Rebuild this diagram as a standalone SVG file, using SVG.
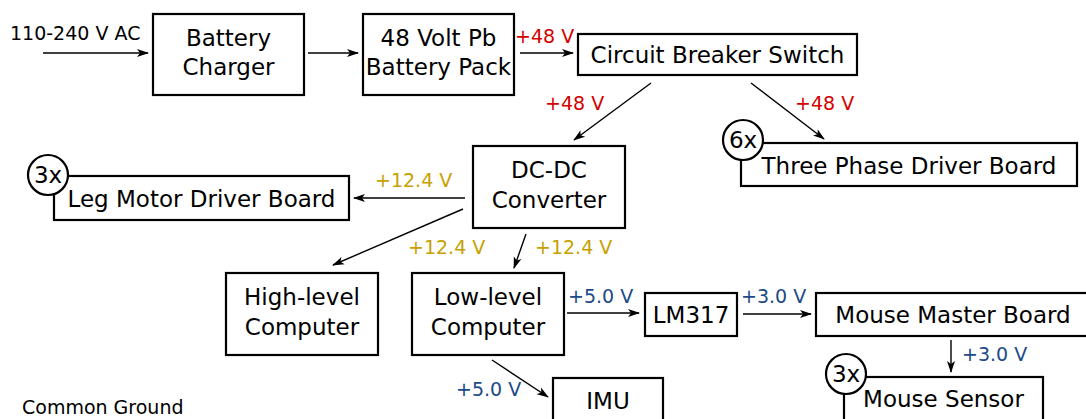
<svg xmlns="http://www.w3.org/2000/svg" width="1086" height="419" viewBox="0 0 1086 419">
<defs>
<style>
.box{fill:#fff;stroke:#000;stroke-width:2.2}
.t{font-family:"DejaVu Sans",sans-serif;font-size:23px;fill:#000;text-anchor:middle}
.l{font-family:"DejaVu Sans",sans-serif;font-size:19px}
.red{fill:#d40000}.gold{fill:#c8a000}.blue{fill:#204a87}
.e{stroke:#000;stroke-width:1.4;fill:none;marker-end:url(#a)}
</style>
<marker id="a" viewBox="0 0 12 10" refX="11" refY="5" markerWidth="12" markerHeight="10" markerUnits="userSpaceOnUse" orient="auto">
<path d="M0,1 L12,5 L0,9 L3,5 Z" fill="#000"/>
</marker>
</defs>
<g id="connectors">
<line class="e" x1="43" y1="53" x2="148" y2="53"/>
<line class="e" x1="308" y1="53" x2="358" y2="53"/>
<line class="e" x1="520" y1="53" x2="573" y2="53"/>
<line class="e" x1="651" y1="83" x2="574" y2="140"/>
<line class="e" x1="751" y1="83" x2="824" y2="139"/>
<line class="e" x1="465" y1="198" x2="354" y2="198"/>
<line class="e" x1="463" y1="209" x2="333" y2="265"/>
<line class="e" x1="526" y1="234" x2="514" y2="268"/>
<line class="e" x1="567" y1="313" x2="639" y2="313"/>
<line class="e" x1="743" y1="314" x2="811" y2="314"/>
<line class="e" x1="951" y1="340" x2="951" y2="372"/>
<line class="e" x1="492" y1="360" x2="548" y2="397"/>
</g>
<g id="labels">
<text class="l" x="10" y="40">110-240 V AC</text>
<text class="l red" x="515" y="43">+48 V</text>
<text class="l red" x="545" y="110">+48 V</text>
<text class="l red" x="795" y="110">+48 V</text>
<text class="l gold" x="375" y="187">+12.4 V</text>
<text class="l gold" x="408" y="254">+12.4 V</text>
<text class="l gold" x="535" y="254">+12.4 V</text>
<text class="l blue" x="568" y="303">+5.0 V</text>
<text class="l blue" x="741" y="303">+3.0 V</text>
<text class="l blue" x="962" y="361">+3.0 V</text>
<text class="l blue" x="456" y="396">+5.0 V</text>
<text class="l" x="22" y="414">Common Ground</text>
</g>
<g id="battery-charger">
<rect class="box" x="153" y="14" width="151" height="81"/>
<text class="t" x="228.5" y="46">Battery</text>
<text class="t" x="228.5" y="75">Charger</text>
</g>
<g id="battery-pack">
<rect class="box" x="363" y="14" width="151" height="81"/>
<text class="t" x="438.5" y="46">48 Volt Pb</text>
<text class="t" x="438.5" y="75">Battery Pack</text>
</g>
<g id="circuit-breaker">
<rect class="box" x="578" y="34" width="279" height="41"/>
<text class="t" x="717.5" y="63">Circuit Breaker Switch</text>
</g>
<g id="three-phase">
<rect class="box" x="741" y="143" width="336" height="43"/>
<text class="t" x="909" y="174">Three Phase Driver Board</text>
<circle class="box" cx="743" cy="140" r="20"/>
<text class="t" x="743" y="148">6x</text>
</g>
<g id="dcdc">
<rect class="box" x="473" y="146" width="152" height="82"/>
<text class="t" x="549" y="178">DC-DC</text>
<text class="t" x="549" y="208">Converter</text>
</g>
<g id="leg-motor">
<rect class="box" x="54" y="176" width="295" height="44"/>
<text class="t" x="201.5" y="207">Leg Motor Driver Board</text>
<circle class="box" cx="48" cy="175" r="20"/>
<text class="t" x="48" y="183">3x</text>
</g>
<g id="high-level">
<rect class="box" x="226" y="273" width="152" height="82"/>
<text class="t" x="302" y="305">High-level</text>
<text class="t" x="302" y="335">Computer</text>
</g>
<g id="low-level">
<rect class="box" x="412" y="273" width="152" height="82"/>
<text class="t" x="488" y="305">Low-level</text>
<text class="t" x="488" y="335">Computer</text>
</g>
<g id="lm317">
<rect class="box" x="645" y="293" width="92" height="43"/>
<text class="t" x="691" y="323">LM317</text>
</g>
<g id="mouse-master">
<rect class="box" x="816" y="293" width="272" height="43"/>
<text class="t" x="953" y="323">Mouse Master Board</text>
</g>
<g id="imu">
<rect class="box" x="553" y="378" width="110" height="50"/>
<text class="t" x="608" y="409">IMU</text>
</g>
<g id="mouse-sensor">
<rect class="box" x="844" y="377" width="199" height="50"/>
<text class="t" x="943.5" y="407">Mouse Sensor</text>
<circle class="box" cx="846" cy="374" r="20"/>
<text class="t" x="846" y="382">3x</text>
</g>
</svg>
